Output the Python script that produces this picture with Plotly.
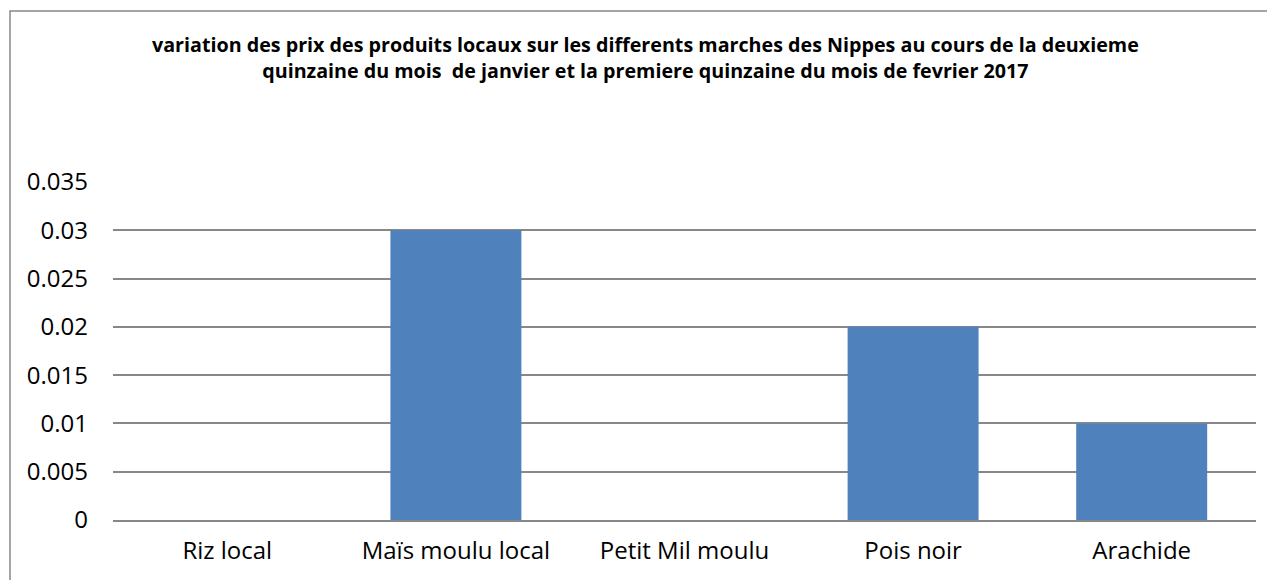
import plotly.graph_objects as go

# données
produits = ["Riz local", "Maïs moulu local", "Petit Mil moulu", "Pois noir", "Arachide"]
variations = [0, 0.03, 0, 0.02, 0.01]
ticks_y = [0, 0.005, 0.01, 0.015, 0.02, 0.025, 0.03, 0.035]
tick_textes = ["0", "0.005", "0.01", "0.015", "0.02", "0.025", "0.03", "0.035"]

titre = ("variation des prix des produits locaux sur les differents marches des Nippes au cours de la deuxieme<br>"
         "quinzaine du mois  de janvier et la premiere quinzaine du mois de fevrier 2017")

# la page ajoute une marge de 8px autour de la figure
OFF = 8
W, H = 1275 - OFF, 580 - OFF
L, R, T, B = 113 - OFF, 19, 182 - OFF, 60
POLICE = "Open Sans, Carlito, Calibri, sans-serif"

fig = go.Figure()
fig.add_trace(
    go.Bar(
        x=produits,
        y=variations,
        marker_color="#4F81BD",
        marker_line_width=0,
        showlegend=False
    )
)

grid = "#888888"
fig.update_layout(
    width=W,
    height=H,
    margin=dict(l=L, r=R, t=T, b=B),
    paper_bgcolor="white",
    plot_bgcolor="white",
    bargap=0.427,
    font=dict(family=POLICE, color="#000000", size=24),
    xaxis=dict(
        showgrid=False,
        showline=True,
        linecolor=grid,
        linewidth=1.5,
        ticks="",
        ticklabelstandoff=8,
        tickfont=dict(size=24),
    ),
    yaxis=dict(
        range=[0, 0.035],
        tickvals=ticks_y,
        ticktext=tick_textes,
        showgrid=True,
        gridcolor=grid,
        gridwidth=1.5,
        zeroline=False,
        showline=False,
        ticks="",
        ticklabelstandoff=24,
        tickfont=dict(size=24),
    ),
)

pw = W - L - R
ph = H - T - B

# titre
fig.add_annotation(
    text="<b>" + titre + "</b>",
    xref="paper", yref="paper",
    x=(645 - OFF - L) / pw, y=(H - B - (58 - OFF)) / ph,
    xanchor="center", yanchor="middle",
    showarrow=False,
    align="center",
    font=dict(size=19.7, family=POLICE),
)

# bordure du graphique (coupée à droite et en bas)
fig.add_shape(
    type="rect",
    xref="paper", yref="paper",
    x0=(10 - OFF - L) / pw, x1=(1290 - L) / pw,
    y0=(H - B - 600) / ph, y1=(H - B - (11 - OFF)) / ph,
    line=dict(color=grid, width=1.5),
    fillcolor="rgba(0,0,0,0)",
    layer="below",
)

fig.write_html("out.html")
